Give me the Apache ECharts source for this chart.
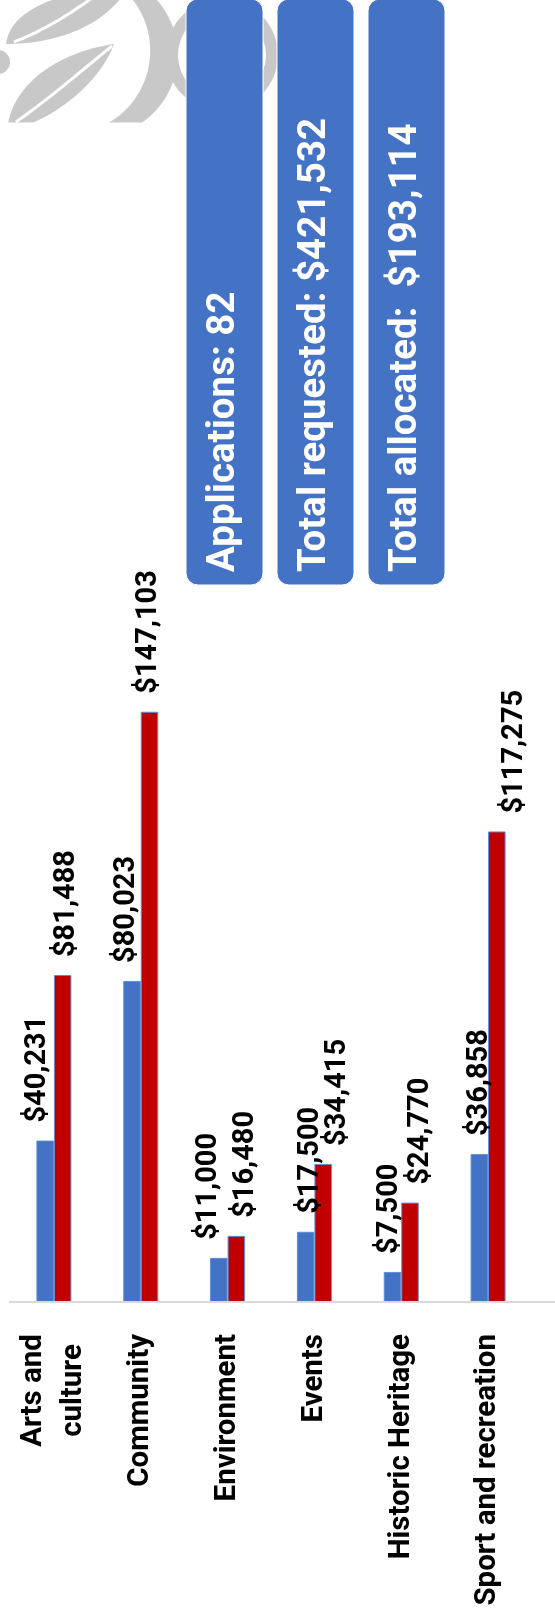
<!DOCTYPE html>
<html>
<head>
<meta charset="utf-8">
<script src="https://cdn.jsdelivr.net/npm/echarts@6/dist/echarts.min.js"></script>
<style>
html,body{margin:0;padding:0;background:#ffffff;}
#chart{width:555px;height:1620px;}
</style>
</head>
<body>
<div id="chart"></div>
<script>
// ---- data ----
const categories = ['Arts and\nculture', 'Community', 'Environment', 'Events', 'Historic Heritage', 'Sport and recreation'];
const allocated = [40231, 80023, 11000, 17500, 7500, 36858];
const requested = [81488, 147103, 16480, 34415, 24770, 117275];
const summaryTexts = ['Applications: 82', 'Total requested: $421,532', 'Total allocated:  $193,114'];

// label nudges (px, horizontal on screen) – styling only
const allocatedLabelDx = [-7, -5, -10, 5, -3, 0];
const requestedLabelDx = [4, -1, 9, 15, 11, 18];

// ---- helpers for decorative logo geometry ----
function arcPts(cx, cy, r, a0, a1, n) {
  const pts = [];
  for (let i = 0; i <= n; i++) {
    const a = (a0 + (a1 - a0) * i / n) * Math.PI / 180;
    pts.push([cx + r * Math.cos(a), cy + r * Math.sin(a)]);
  }
  return pts;
}
function bez(p0, p1, p2, p3, n) {
  const pts = [];
  for (let i = 0; i <= n; i++) {
    const t = i / n, u = 1 - t;
    pts.push([
      u*u*u*p0[0] + 3*u*u*t*p1[0] + 3*u*t*t*p2[0] + t*t*t*p3[0],
      u*u*u*p0[1] + 3*u*u*t*p1[1] + 3*u*t*t*p2[1] + t*t*t*p3[1]
    ]);
  }
  return pts;
}

// ---- chart ----
const FONT = 'Roboto, "Liberation Sans", sans-serif';
const fmt = v => '$' + Number(v).toLocaleString('en-US');

const chart = echarts.init(document.getElementById('chart'), null, {renderer: 'canvas'});

const labelStyle = {
  show: true,
  position: 'top',
  distance: 18,
  rotate: 90,
  align: 'left',
  verticalAlign: 'middle',
  fontFamily: FONT,
  fontWeight: 'bold',
  fontSize: 29,
  color: '#000000',
  formatter: p => fmt(p.value)
};

const GRAY = '#C8C8C8';
const crescent = arcPts(94.8, 54.6, 82.8, -92, 108, 60).concat(arcPts(66.9, 50.7, 83.3, 88, -72, 60));
const leaf1 = bez([6, 44], [10, 14], [45, 0], [80, -8], 30).concat([[125, -8]]).concat(bez([125, -8], [104, 25], [58, 44], [6, 44], 30));
const vein1 = bez([14, 42], [40, 32], [70, 15], [100, -8], 30);
const leaf2 = bez([8, 124], [15, 82], [60, 52], [114, 44], 30).concat(bez([114, 44], [100, 82], [60, 112], [30, 124], 30));
const vein2 = bez([16, 122], [50, 98], [80, 72], [112, 46], 30);
const nub = arcPts(-2, 62, 12, -90, 90, 30);

const boxX = [186, 277, 368];
const graphics = [
  {type: 'polygon', z: 0, shape: {points: crescent}, style: {fill: GRAY}},
  {type: 'ring', z: 0, shape: {cx: 222, cy: 55, r: 56, r0: 44}, style: {fill: GRAY}},
  {type: 'polygon', z: 0, shape: {points: leaf1}, style: {fill: GRAY}},
  {type: 'polyline', z: 0, shape: {points: vein1}, style: {stroke: '#ffffff', lineWidth: 3}},
  {type: 'polygon', z: 0, shape: {points: leaf2}, style: {fill: GRAY}},
  {type: 'polyline', z: 0, shape: {points: vein2}, style: {stroke: '#ffffff', lineWidth: 3}},
  {type: 'polygon', z: 0, shape: {points: nub}, style: {fill: GRAY}},
  {type: 'rect', z: 1, shape: {x: 0, y: 122.5, width: 555, height: 300}, style: {fill: '#ffffff'}},
  {type: 'line', z: 5, shape: {x1: 9, y1: 1302, x2: 555, y2: 1302}, style: {stroke: '#D9D9D9', lineWidth: 2}}
];
summaryTexts.forEach((t, i) => {
  graphics.push({type: 'rect', z: 10, shape: {x: boxX[i], y: -1, width: 77, height: 586, r: 12},
    style: {fill: '#4472C4', stroke: '#ffffff', lineWidth: 1}});
  graphics.push({type: 'text', z: 11, x: boxX[i] + 38.5, y: 572, rotation: Math.PI / 2,
    style: {text: t, fill: '#ffffff', fontFamily: FONT, fontWeight: 'bold', fontSize: 38.5, align: 'left', verticalAlign: 'middle'}});
});

const catFont = {fontFamily: FONT, fontWeight: 'bold', fontSize: 29.5, lineHeight: 40, color: '#000000'};

const option = {
  backgroundColor: '#ffffff',
  animation: false,
  grid: {left: 10.5, right: 23.5, top: 660, bottom: 318, containLabel: false, outerBoundsMode: 'none'},
  xAxis: {
    type: 'category',
    data: categories,
    axisLine: {show: false},
    axisTick: {show: false},
    axisLabel: Object.assign({
      interval: 0,
      rotate: 90,
      margin: 32,
      formatter: v => v.indexOf('\n') >= 0 ? v.split('\n').map(s => '{c|' + s + '}').join('\n') : v,
      rich: {c: Object.assign({width: 113, align: 'center'}, catFont)}
    }, catFont)
  },
  yAxis: {type: 'value', min: 0, max: 160000, show: false, splitLine: {show: false}},
  series: [
    {name: 'Allocated', type: 'bar', barWidth: 17.5, barGap: '0%',
     data: allocated.map((v, i) => ({value: v, label: {offset: [0, allocatedLabelDx[i]]}})),
     itemStyle: {color: '#4472C4', borderColor: '#5B8ED8', borderWidth: 1}, label: labelStyle},
    {name: 'Requested', type: 'bar', barWidth: 17.5, barGap: '0%',
     data: requested.map((v, i) => ({value: v, label: {offset: [0, requestedLabelDx[i]]}})),
     itemStyle: {color: '#C00000', borderColor: '#5B8ED8', borderWidth: 1}, label: labelStyle}
  ],
  graphic: {elements: graphics}
};
chart.setOption(option);
</script>
</body>
</html>
